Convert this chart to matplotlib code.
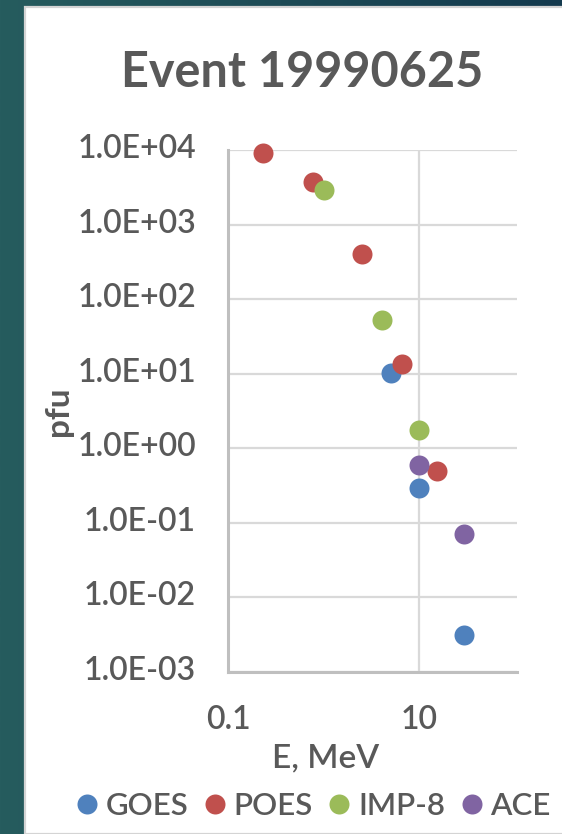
import numpy as np
import matplotlib
matplotlib.use("Agg")
import matplotlib.pyplot as plt
from matplotlib.lines import Line2D
from matplotlib.patches import Rectangle
from matplotlib.transforms import ScaledTranslation

plt.rcParams['font.family'] = ['Lato', 'DejaVu Sans']

# Proton flux spectra, event 1999-06-25
title = "Event 19990625"
series_names = ["GOES", "POES", "IMP-8", "ACE"]
series_colors = ["#4F81BD", "#C0504D", "#9BBB59", "#8064A2"]

goes_E = [5.0, 10.0, 29.0]
goes_pfu = [10.3, 0.29, 0.0031]

poes_E = [0.234, 0.77, 2.52, 6.6, 15.3]
poes_pfu = [9200, 3760, 407, 13.6, 0.50]

imp8_E = [1.0, 4.1, 10.0]
imp8_pfu = [2880, 52, 1.76]

ace_E = [10.0, 29.0]
ace_pfu = [0.60, 0.071]

x_ticks = [0.1, 10]
x_tick_labels = ["0.1", "10"]
y_ticks = [1e-3, 1e-2, 1e-1, 1e0, 1e1, 1e2, 1e3, 1e4]
y_tick_labels = ["1.0E-03", "1.0E-02", "1.0E-01", "1.0E+00",
                 "1.0E+01", "1.0E+02", "1.0E+03", "1.0E+04"]

W, H, DPI = 562, 834, 100
fig = plt.figure(figsize=(W / DPI, H / DPI), dpi=DPI)

# slide backdrop: teal gradient with a white chart panel
bg = fig.add_axes([0, 0, 1, 1], zorder=-10)
grad = np.linspace(0, 1, 256)
c0 = np.array([0x26, 0x5C, 0x5E]) / 255
c1 = np.array([0x14, 0x3A, 0x4E]) / 255
img = (c0[None, :] * (1 - grad[:, None]) + c1[None, :] * grad[:, None])[None, :, :]
bg.imshow(img, aspect='auto', extent=[0, W, 0, H])
bg.add_patch(Rectangle((25, 0), W, H - 7, facecolor='white',
                       edgecolor='#D4D4D4', linewidth=1.6))
bg.set_xlim(0, W)
bg.set_ylim(0, H)
bg.axis('off')

text_color = "#595959"
grid_color = "#D9D9D9"
axis_color = "#BFBFBF"
label_weight = 'semibold'

ax = fig.add_axes([228 / W, 1 - 672 / H, (517 - 228) / W, (672 - 150) / H])
ax.set_facecolor('none')
ax.set_xscale('log')
ax.set_yscale('log')
ax.set_xlim(0.1, 105)
ax.set_ylim(1e-3, 1e4)

ax.set_xticks(x_ticks)
ax.set_xticklabels(x_tick_labels, fontweight=label_weight)
ax.xaxis.set_minor_locator(matplotlib.ticker.NullLocator())
ax.set_yticks(y_ticks)
ax.set_yticklabels(y_tick_labels, fontweight=label_weight)
ax.yaxis.set_minor_locator(matplotlib.ticker.NullLocator())

ax.grid(True, which='major', color=grid_color, linewidth=1.6, zorder=0)
ax.set_axisbelow(True)
for side in ['top', 'right']:
    ax.spines[side].set_visible(False)
for side in ['left', 'bottom']:
    ax.spines[side].set_color(axis_color)
    ax.spines[side].set_linewidth(2.2)

ax.tick_params(axis='both', length=0, labelsize=23, labelcolor=text_color)
ax.tick_params(axis='y', pad=23)
ax.tick_params(axis='x', pad=24)
for lab in ax.get_yticklabels():
    lab.set_transform(lab.get_transform() +
                      ScaledTranslation(0, 4 / DPI, fig.dpi_scale_trans))

data = [(goes_E, goes_pfu), (poes_E, poes_pfu), (imp8_E, imp8_pfu), (ace_E, ace_pfu)]
for (xs, ys), name, col in zip(data, series_names, series_colors):
    ax.plot(xs, ys, linestyle='none', marker='o', markersize=14.4,
            markerfacecolor=col, markeredgecolor=col, markeredgewidth=0,
            label=name, clip_on=False, zorder=3)

fig.text(302 / W, 1 - 87 / H, title, ha='center', va='baseline',
         fontsize=35, fontweight='bold', color=text_color)
fig.text(326 / W, 1 - 767 / H, "E, MeV", ha='center', va='baseline',
         fontsize=24, fontweight=label_weight, color=text_color)
fig.text(58.7 / W, 1 - 411 / H, "pfu", ha='center', va='center',
         rotation=90, fontsize=24, fontweight='bold', color=text_color)

handles = [Line2D([], [], linestyle='none', marker='o', markersize=14.4,
                  markerfacecolor=c, markeredgewidth=0) for c in series_colors]
fig.legend(handles, series_names, loc='center', ncol=4,
           bbox_to_anchor=(314 / W, 1 - 806 / H), frameon=False,
           prop={'size': 22.5, 'weight': label_weight}, labelcolor=text_color,
           handlelength=0.6, handletextpad=0.3, columnspacing=0.55,
           borderpad=0, borderaxespad=0)

fig.savefig("out.png", dpi=DPI)
